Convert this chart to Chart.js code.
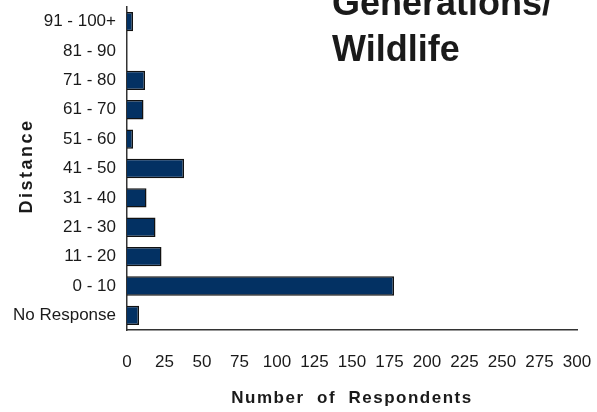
<!DOCTYPE html>
<html>
<head>
<meta charset="utf-8">
<script src="https://cdn.jsdelivr.net/npm/chart.js@4"></script>
<style>
  html, body { margin: 0; padding: 0; background: #fff; }
  #wrap { width: 597px; height: 412px; position: relative; }
</style>
</head>
<body>
<div id="wrap"><canvas id="chart"></canvas></div>
<script>
// distance bands, top to bottom as in the picture
const categories = ['91 - 100+', '81 - 90', '71 - 80', '61 - 70', '51 - 60', '41 - 50',
                    '31 - 40', '21 - 30', '11 - 20', '0 - 10', 'No Response'];
// number of respondents per band
const respondents = [4, 0, 12, 11, 4, 38, 13, 19, 23, 178, 8];
const xTicks = [0, 25, 50, 75, 100, 125, 150, 175, 200, 225, 250, 275, 300];

const titleLines = ['Generations/', 'Wildlife'];
const xTitle = 'Number  of  Respondents';
const yTitle = 'Distance';

// draws the big title and both axis titles
const textPlugin = {
    id: 'texts',
    afterDraw(chart) {
        const ctx = chart.ctx;
        const area = chart.chartArea;
        ctx.save();
        ctx.fillStyle = '#1a1a1a';
        ctx.textAlign = 'left';
        ctx.textBaseline = 'alphabetic';
        ctx.font = 'bold 36px "Liberation Sans", Arial, sans-serif';
        ctx.fillText(titleLines[0], 332, 15);
        ctx.fillText(titleLines[1], 332, 61);

        ctx.font = 'bold 17px "Liberation Sans", Arial, sans-serif';
        ctx.textAlign = 'center';
        ctx.textBaseline = 'middle';
        ctx.letterSpacing = '1.5px';
        ctx.fillText(xTitle, (area.left + area.right) / 2, 398);

        ctx.translate(27, 166);
        ctx.rotate(-Math.PI / 2);
        ctx.font = 'bold 18px "Liberation Sans", Arial, sans-serif';
        ctx.letterSpacing = '2.5px';
        ctx.fillText(yTitle, 0, 0);
        ctx.restore();
    }
};

const data = {
    labels: categories,
    datasets: [{
        data: respondents,
        backgroundColor: '#033163',
        borderColor: '#111',
        borderWidth: 1.5,
        barPercentage: 0.66,
        categoryPercentage: 1
    }]
};

const config = {
    type: 'bar',
    data: data,
    options: {
        indexAxis: 'y',
        responsive: false,
        animation: false,
        layout: { padding: { top: 7, right: 20, left: 0, bottom: 0 } },
        plugins: {
            legend: { display: false },
            tooltip: { enabled: false }
        },
        scales: {
            x: {
                min: 0,
                max: 300,
                afterFit(scale) {
                    scale.height = 412 - 330;
                    scale.paddingLeft = 0;
                    scale.paddingRight = 0;
                },
                afterBuildTicks(scale) { scale.ticks = xTicks.map(v => ({ value: v })); },
                grid: { display: false, drawTicks: false },
                border: { display: true, color: '#333', width: 1.5 },
                ticks: {
                    padding: 22,
                    maxRotation: 0,
                    color: '#1a1a1a',
                    font: { family: '"Liberation Sans", Arial, sans-serif', size: 17 }
                }
            },
            y: {
                afterFit(scale) {
                    scale.width = 127;
                    scale.paddingTop = 0;
                    scale.paddingBottom = 0;
                },
                grid: { display: false, drawTicks: false },
                border: { display: true, color: '#333', width: 1.5 },
                ticks: {
                    padding: 11,
                    autoSkip: false,
                    color: '#1a1a1a',
                    font: { family: '"Liberation Sans", Arial, sans-serif', size: 17 }
                }
            }
        }
    },
    plugins: [textPlugin]
};

const canvas = document.getElementById('chart');
canvas.width = 597;
canvas.height = 412;
const myChart = new Chart(canvas.getContext('2d'), config);
</script>
</body>
</html>
